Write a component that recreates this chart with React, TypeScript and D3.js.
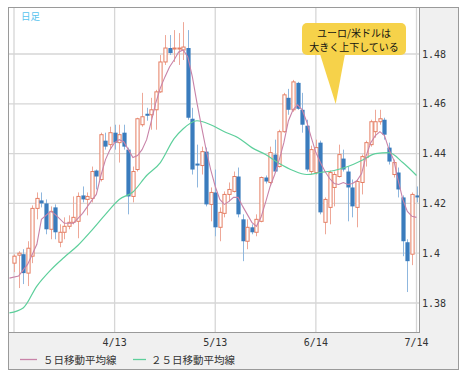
import React from "react";
import * as d3 from "d3";

// ---- data (EUR/USD daily candles) ----
const opens = [
  1.3960, 1.3992, 1.3996, 1.3920, 1.3988, 1.4180, 1.4212, 1.4200, 1.4096, 1.4184,
  1.4044, 1.4084, 1.4108, 1.4124, 1.4128, 1.4232, 1.4216, 1.4220, 1.4332, 1.4296,
  1.4452, 1.4436, 1.4484, 1.4444, 1.4484, 1.4416, 1.4228, 1.4336, 1.4516, 1.4560,
  1.4556, 1.4576, 1.4648, 1.4768, 1.4824, 1.4820, 1.4820, 1.4816, 1.4824, 1.4540,
  1.4360, 1.4352, 1.4408, 1.4196, 1.4244, 1.4104, 1.4160, 1.4236, 1.4248, 1.4308,
  1.4136, 1.4048, 1.4104, 1.4084, 1.4128, 1.4304, 1.4284, 1.4396, 1.4348, 1.4488,
  1.4624, 1.4576, 1.4684, 1.4576, 1.4512, 1.4328, 1.4324, 1.4444, 1.4124, 1.4184,
  1.4264, 1.4308, 1.4380, 1.4328, 1.4264, 1.4184, 1.4284, 1.4384, 1.4436, 1.4488,
  1.4528, 1.4536, 1.4424, 1.4316, 1.4324, 1.4224, 1.4044, 1.3996, 1.4232,
];
const closes = [
  1.3988, 1.4000, 1.3920, 1.4020, 1.4180, 1.4220, 1.4200, 1.4096, 1.4168, 1.4084,
  1.4084, 1.4108, 1.4124, 1.4144, 1.4228, 1.4216, 1.4228, 1.4328, 1.4308, 1.4476,
  1.4428, 1.4484, 1.4444, 1.4476, 1.4428, 1.4228, 1.4328, 1.4540, 1.4548, 1.4552,
  1.4576, 1.4648, 1.4768, 1.4824, 1.4804, 1.4824, 1.4824, 1.4828, 1.4544, 1.4336,
  1.4352, 1.4408, 1.4196, 1.4244, 1.4104, 1.4164, 1.4236, 1.4256, 1.4308, 1.4156,
  1.4048, 1.4104, 1.4084, 1.4136, 1.4304, 1.4288, 1.4404, 1.4328, 1.4488, 1.4636,
  1.4576, 1.4688, 1.4580, 1.4516, 1.4336, 1.4416, 1.4424, 1.4164, 1.4216, 1.4324,
  1.4316, 1.4396, 1.4336, 1.4264, 1.4188, 1.4288, 1.4388, 1.4444, 1.4528, 1.4528,
  1.4540, 1.4476, 1.4368, 1.4364, 1.4256, 1.4048, 1.3968, 1.4236, 1.4224,
];
const highs = [
  1.3995, 1.4008, 1.4016, 1.4048, 1.4192, 1.4244, 1.4244, 1.4216, 1.4188, 1.4196,
  1.4116, 1.4144, 1.4152, 1.4228, 1.4244, 1.4268, 1.4244, 1.4348, 1.4336, 1.4484,
  1.4484, 1.4508, 1.4516, 1.4516, 1.4516, 1.4424, 1.4348, 1.4544, 1.4644, 1.4584,
  1.4624, 1.4656, 1.4796, 1.4876, 1.4876, 1.4896, 1.4884, 1.4928, 1.4896, 1.4584,
  1.4436, 1.4428, 1.4424, 1.4264, 1.4336, 1.4184, 1.4248, 1.4284, 1.4328, 1.4344,
  1.4156, 1.4136, 1.4116, 1.4156, 1.4308, 1.4312, 1.4428, 1.4456, 1.4496, 1.4644,
  1.4660, 1.4696, 1.4688, 1.4644, 1.4536, 1.4432, 1.4456, 1.4452, 1.4224, 1.4332,
  1.4328, 1.4436, 1.4416, 1.4348, 1.4296, 1.4296, 1.4396, 1.4452, 1.4536, 1.4576,
  1.4576, 1.4544, 1.4444, 1.4376, 1.4344, 1.4232, 1.4056, 1.4244, 1.4268,
];
const lows = [
  1.3924, 1.3860, 1.3876, 1.3868, 1.3960, 1.4136, 1.4184, 1.4076, 1.4056, 1.4056,
  1.4024, 1.4056, 1.4096, 1.4116, 1.4060, 1.4204, 1.4152, 1.4204, 1.4256, 1.4288,
  1.4416, 1.4416, 1.4416, 1.4364, 1.4416, 1.4156, 1.4204, 1.4328, 1.4508, 1.4532,
  1.4496, 1.4496, 1.4644, 1.4756, 1.4796, 1.4768, 1.4756, 1.4776, 1.4536, 1.4316,
  1.4264, 1.4316, 1.4188, 1.4128, 1.4068, 1.4048, 1.4144, 1.4208, 1.4244, 1.4144,
  1.3968, 1.4016, 1.4076, 1.4068, 1.4124, 1.4280, 1.4276, 1.4324, 1.4344, 1.4484,
  1.4556, 1.4568, 1.4576, 1.4484, 1.4328, 1.4316, 1.4316, 1.4156, 1.4076, 1.4116,
  1.4188, 1.4304, 1.4328, 1.4128, 1.4144, 1.4104, 1.4236, 1.4348, 1.4428, 1.4464,
  1.4516, 1.4456, 1.4356, 1.4304, 1.4224, 1.3988, 1.3844, 1.3952, 1.4204,
];

// 5-day moving average, bar index / value
const ma5Index = [-1, 1, 3, 5, 6, 8, 9, 11, 13, 15, 17, 18, 19, 20, 21, 22, 23, 24, 25, 26, 27, 28, 29, 30,
  31, 32, 33, 34, 35, 36, 37, 38, 39, 40, 41, 42, 43, 44, 45, 46, 47, 48, 49, 50, 51, 52, 53, 54, 55, 56,
  57, 58, 59, 60, 61, 62, 63, 64, 65, 66, 67, 68, 69, 70, 71, 72, 73, 74, 75, 76, 77, 78, 79, 80, 81, 82,
  83, 84, 85, 86, 87, 88];
const ma5Value = [1.3900, 1.3908, 1.3956, 1.4036, 1.4136, 1.4168, 1.4156, 1.4120, 1.4120, 1.4160, 1.4212,
  1.4236, 1.4312, 1.4376, 1.4416, 1.4444, 1.4456, 1.4448, 1.4416, 1.4384, 1.4392, 1.4416, 1.4456, 1.4528,
  1.4604, 1.4664, 1.4708, 1.4748, 1.4776, 1.4808, 1.4816, 1.4788, 1.4708, 1.4604, 1.4508, 1.4416, 1.4336,
  1.4268, 1.4216, 1.4196, 1.4208, 1.4224, 1.4224, 1.4188, 1.4156, 1.4124, 1.4108, 1.4144, 1.4204, 1.4268,
  1.4316, 1.4376, 1.4444, 1.4532, 1.4576, 1.4596, 1.4576, 1.4528, 1.4464, 1.4404, 1.4364, 1.4328, 1.4300,
  1.4280, 1.4276, 1.4284, 1.4276, 1.4280, 1.4292, 1.4320, 1.4392, 1.4444, 1.4472, 1.4488, 1.4472, 1.4416,
  1.4376, 1.4292, 1.4216, 1.4168, 1.4148, 1.4144];

// 25-day moving average
const ma25Index = [-1, 2, 5, 8, 11, 14, 17, 20, 23, 26, 29, 32, 35, 37, 40, 43, 46, 49, 52, 55, 58, 61, 64,
  67, 70, 73, 76, 79, 82, 85, 88];
const ma25Value = [1.3760, 1.3780, 1.3868, 1.3932, 1.3984, 1.4032, 1.4092, 1.4156, 1.4216, 1.4246, 1.4312,
  1.4364, 1.4460, 1.4500, 1.4532, 1.4516, 1.4488, 1.4464, 1.4424, 1.4396, 1.4360, 1.4332, 1.4316, 1.4324,
  1.4332, 1.4348, 1.4372, 1.4400, 1.4404, 1.4364, 1.4312];

const xTickIndex = [0, 22, 44, 66, 88];
const xTickLabels = ["", "4/13", "5/13", "6/14", "7/14"];
const yTickValues = [1.38, 1.4, 1.42, 1.44, 1.46, 1.48];
const yTickLabels = ["1.38", "1.4", "1.42", "1.44", "1.46", "1.48"];

const legendLabels = ["５日移動平均線", "２５日移動平均線"];
const calloutLines = ["ユーロ/米ドルは", "大きく上下している"];
const periodLabel = "日足";

// ---- layout ----
const PL = 8, PT = 7, PR = 419, PB = 332;
const OR = 458, OB = 369;

const UP = "#e57e63";
const UP_WICK = "#eea898";
const DOWN = "#3a7cbd";
const DOWN_WICK = "#8fb7de";
const MA5 = "#c883a8";
const MA25 = "#5dcf9b";
const GRID = "#d6d6d6";

export default function App() {
  const x = d3.scaleLinear().domain([0, 88]).range([14, 416.5]);
  const y = d3.scaleLinear().domain([1.38, 1.48]).range([303, 54]);

  const ma5Line = d3
    .line<number>()
    .x((_, i) => x(ma5Index[i]))
    .y((d) => y(d));
  const ma25Line = d3
    .line<number>()
    .x((_, i) => x(ma25Index[i]))
    .y((d) => y(d))
    .curve(d3.curveMonotoneX);

  const bw = 3.2;

  return (
    <svg
      width={465}
      height={377}
      style={{ position: "absolute", left: 0, top: 0, display: "block" }}
    >
      <defs>
        <clipPath id="plotClip">
          <rect x={PL + 1} y={PT + 1} width={PR - PL - 1} height={PB - PT - 1} />
        </clipPath>
      </defs>
      {/* outer frame */}
      <rect x={PL + 0.5} y={PT + 0.5} width={OR - PL} height={OB - PT} fill="#f0f0f0" stroke="#9a9a9a" />
      {/* plot area */}
      <rect x={PL + 0.5} y={PT + 0.5} width={PR - PL} height={PB - PT} fill="#ffffff" stroke="#9a9a9a" />

      <g clipPath="url(#plotClip)">
        {yTickValues.map((v) => (
          <line key={"gy" + v} x1={PL} x2={PR} y1={y(v)} y2={y(v)} stroke={GRID} strokeWidth={1.3} />
        ))}
        {xTickIndex.map((t) => (
          <line key={"gx" + t} x1={x(t)} x2={x(t)} y1={PT} y2={PB} stroke={GRID} strokeWidth={1.3} />
        ))}

        {/* candles */}
        {opens.map((o, i) => {
          const c = closes[i];
          const up = c >= o;
          const cx = Math.round(x(i)) + 0.5;
          const top = y(Math.max(o, c));
          const bot = y(Math.min(o, c));
          const h = Math.max(1, bot - top);
          return (
            <g key={"c" + i}>
              <line
                x1={cx}
                x2={cx}
                y1={y(highs[i])}
                y2={y(lows[i])}
                stroke={up ? UP_WICK : DOWN_WICK}
                strokeWidth={1}
              />
              {up ? (
                <rect x={cx - bw / 2} y={top} width={bw} height={h} fill="#ffffff" stroke={UP} strokeWidth={1} />
              ) : (
                <rect x={cx - bw / 2 - 0.5} y={top} width={bw + 1} height={h} fill={DOWN} />
              )}
            </g>
          );
        })}

        <path d={ma25Line(ma25Value) || ""} fill="none" stroke={MA25} strokeWidth={1.2} />
        <path d={ma5Line(ma5Value) || ""} fill="none" stroke={MA5} strokeWidth={1.1} />
      </g>

      {/* period label */}
      <text x={21} y={20} fontSize={9.5} fill="#56c3ee" fontFamily="'Noto Sans CJK JP', sans-serif">
        {periodLabel}
      </text>

      {/* callout */}
      <g>
        <rect x={302} y={23} width={104} height={32} rx={5} ry={5} fill="#f6d24a" />
        <path d="M320,54 L345,54 L335.7,104 Z" fill="#f6d24a" />
        <text
          textAnchor="middle"
          fontSize={10}
          fill="#111"
          fontFamily="'Noto Sans CJK JP', sans-serif"
        >
          {calloutLines.map((t, i) => (
            <tspan key={"cl" + i} x={354} y={36.5 + i * 14.6}>
              {t}
            </tspan>
          ))}
        </text>
      </g>

      {/* y tick labels */}
      {yTickValues.map((v, i) => (
        <text
          key={"yl" + v}
          x={422}
          y={y(v) + 3.5}
          fontSize={10}
          fill="#333"
          fontFamily="'DejaVu Sans Mono', monospace"
        >
          {yTickLabels[i]}
        </text>
      ))}

      {/* x tick labels */}
      {xTickIndex.map((t, i) => (
        <text
          key={"xl" + t}
          x={x(t)}
          y={346}
          textAnchor="middle"
          fontSize={10}
          fill="#333"
          fontFamily="'DejaVu Sans Mono', monospace"
        >
          {xTickLabels[i]}
        </text>
      ))}

      {/* legend */}
      <line x1={20} x2={37} y1={359.5} y2={359.5} stroke={MA5} strokeWidth={1.3} />
      <text x={43} y={364} fontSize={10.5} fill="#333" fontFamily="'Noto Sans CJK JP', sans-serif">
        {legendLabels[0]}
      </text>
      <line x1={133} x2={146} y1={359.5} y2={359.5} stroke={MA25} strokeWidth={1.3} />
      <text x={151} y={364} fontSize={10.5} fill="#333" fontFamily="'Noto Sans CJK JP', sans-serif">
        {legendLabels[1]}
      </text>
    </svg>
  );
}
